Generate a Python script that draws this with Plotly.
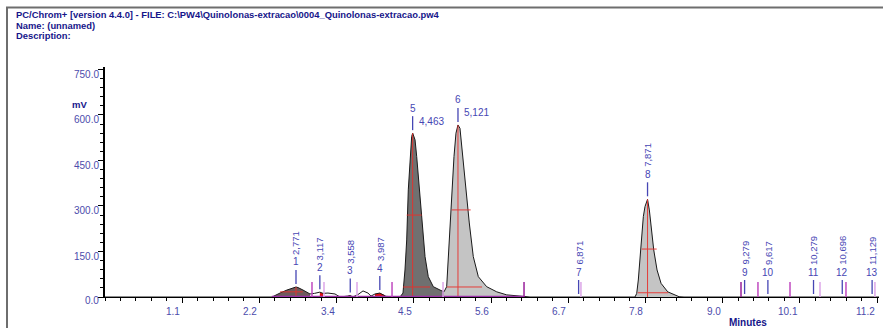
import plotly.graph_objects as go
import numpy as np

# ---------------- data ----------------
time_min = [0.000, 2.423, 2.539, 2.640, 2.771, 2.800, 2.872, 2.974, 3.040, 3.117,
            3.163, 3.235, 3.337, 3.409, 3.520, 3.558, 3.595, 3.670, 3.743, 3.815,
            3.859, 3.917, 3.987, 4.030, 4.077, 4.280, 4.309, 4.323, 4.352, 4.377,
            4.400, 4.425, 4.449, 4.464, 4.498, 4.522, 4.560, 4.595, 4.643, 4.690,
            4.763, 4.860, 4.918, 4.957, 4.980, 5.005, 5.030, 5.063, 5.092, 5.121,
            5.150, 5.189, 5.237, 5.285, 5.343, 5.416, 5.537, 5.683, 5.828, 6.021,
            6.166, 7.689, 7.714, 7.737, 7.762, 7.787, 7.810, 7.834, 7.871, 7.897,
            7.922, 7.961, 8.009, 8.067, 8.164, 8.284, 8.328, 8.400, 11.229]
signal_mv = [0, 0, 13, 23, 33, 31, 23, 10, 12, 16,
             12, 13, 10, 0, 3, 5, 0, 8, 20, 13,
             3, 10, 13, 9, 2, 0, 7, 13, 89, 188,
             353, 463, 529, 540, 518, 463, 353, 244, 133, 67,
             34, 23, 17, 34, 133, 244, 353, 463, 540, 567,
             556, 463, 353, 244, 133, 67, 34, 17, 7, 2,
             0, 0, 12, 56, 122, 199, 265, 298, 322, 287,
             232, 155, 89, 45, 17, 7, 1, 0, 0]

# integration windows (start, end in minutes)
region_start = [2.42, 3.09, 3.52, 3.90, 4.28, 4.918, 7.689]
region_end = [2.975, 3.17, 3.595, 4.08, 4.918, 6.17, 8.40]

# peak labels
peak_num = [1, 2, 3, 4, 5, 6, 7, 8, 9, 10, 11, 12, 13]
peak_time = [2.771, 3.117, 3.558, 3.987, 4.463, 5.121, 6.871, 7.871,
             9.279, 9.617, 10.279, 10.696, 11.129]
peak_height = [33, 16, 5, 13, 540, 567, 0, 322, 0, 0, 0, 0, 0]
peak_time_text = ["2,771", "3,117", "3,558", "3,987", "4,463", "5,121", "6,871",
                  "7,871", "9,279", "9,617", "10,279", "10,696", "11,129"]

# red peak markers (apex vertical, half-height and base horizontal)
mark_time = [2.771, 4.463, 5.121, 7.871]
mark_apex = [33, 540, 567, 322]
half_level = [270, 287, 158]
half_left = [4.377, 5.030, 7.787]
half_right = [4.595, 5.305, 8.004]
base_level = [17, 33, 33, 14]
base_left = [2.54, 4.323, 4.96, 7.73]
base_right = [2.87, 4.715, 5.47, 8.17]

# integration baseline and event marks
intbase_start, intbase_end = 2.42, 6.079
event_time = [3.003, 3.177, 3.656, 4.164, 4.904, 6.079, 6.905,
              9.227, 9.473, 9.938, 10.373, 10.750, 11.170]
event_kind = ["m", "l", "l", "m", "l", "d", "l", "d", "m", "m", "l", "m", "l"]

# axes
x_tick_vals = [1.12, 2.24, 3.36, 4.48, 5.60, 6.72, 7.84, 8.96, 10.08, 11.20]
x_tick_text = ["1.1", "2.2", "3.4", "4.5", "5.6", "6.7", "7.8", "9.0", "10.1", "11.2"]
y_tick_vals = [0, 150, 300, 450, 600, 750]
y_tick_text = ["0.0", "150.0", "300.0", "450.0", "600.0", "750.0"]

header_lines = ["PC/Chrom+ [version 4.4.0] - FILE: C:\\PW4\\Quinolonas-extracao\\0004_Quinolonas-extracao.pw4",
                "Name: (unnamed)",
                "Description:"]

# ---------------- styles ----------------
W, H = 883, 328
ML, MR, MT, MB = 105, 4, 67, 31
PW, PH = W - ML - MR, H - MT - MB
FONT = "Liberation Sans, Arial, sans-serif"
NAVY = "#16168a"
TICKBLUE = "#4c4cac"
LABBLUE = "#4646b4"
REGION_COLORS = ["#6e5c5c", "#e01010", "#e01010", "#e01010", "#707070", "#c4c4c4", "#c4c4c4"]
EVENT_COLORS = {"m": "#c04ac0", "l": "#dca6e8", "d": "#98209a"}
RED = "#e8302c"

def px_x(p):
    return (p - ML) / PW

def px_y(p):
    return (H - MB - p) / PH

t = np.array(time_min)
s = np.array(signal_mv)

fig = go.Figure()

# filled integration regions
for a, b, c in zip(region_start, region_end, REGION_COLORS):
    m = (t >= a - 1e-9) & (t <= b + 1e-9)
    fig.add_trace(go.Scatter(x=t[m], y=s[m], mode="lines", fill="tozeroy",
                             fillcolor=c, line=dict(width=0), hoverinfo="skip",
                             showlegend=False))

# chromatogram
fig.add_trace(go.Scatter(x=t, y=s, mode="lines", line=dict(color="#1a1a1a", width=1),
                         showlegend=False))

# red markers
rx, ry = [], []
for tt, ap in zip(mark_time, mark_apex):
    rx += [tt, tt, None]
    ry += [0, ap, None]
for lv, a, b in zip(half_level, half_left, half_right):
    rx += [a, b, None]
    ry += [lv, lv, None]
for lv, a, b in zip(base_level, base_left, base_right):
    rx += [a, b, None]
    ry += [lv, lv, None]
fig.add_trace(go.Scatter(x=rx, y=ry, mode="lines", line=dict(color=RED, width=1),
                         opacity=0.9, showlegend=False, hoverinfo="skip"))

shapes = []
annotations = []

# integration baseline
shapes.append(dict(type="line", xref="x", yref="y", x0=intbase_start, x1=intbase_end,
                   y0=2, y1=2, line=dict(color="#9a30a6", width=1.5)))

# event marks
for et, k in zip(event_time, event_kind):
    shapes.append(dict(type="line", xref="x", yref="y", ysizemode="pixel", yanchor=0,
                       x0=et, x1=et, y0=0, y1=15,
                       line=dict(color=EVENT_COLORS[k], width=1.5)))

# peak labels
for n, pt, ph, txt in zip(peak_num, peak_time, peak_height, peak_time_text):
    shapes.append(dict(type="line", xref="x", yref="y", ysizemode="pixel", yanchor=ph,
                       x0=pt, x1=pt, y0=3, y1=17, line=dict(color=LABBLUE, width=1.3)))
    annotations.append(dict(x=pt, y=ph, xref="x", yref="y", text=str(n), showarrow=False,
                            yshift=25, yanchor="middle", xanchor="center",
                            font=dict(family=FONT, size=10, color=LABBLUE)))
    if n in (5, 6):
        annotations.append(dict(x=pt, y=ph, xref="x", yref="y", text=txt, showarrow=False,
                                xshift=4, yshift=12, yanchor="middle", xanchor="left",
                                font=dict(family=FONT, size=10, color=LABBLUE)))
    else:
        annotations.append(dict(x=pt, y=ph, xref="x", yref="y", text=txt, showarrow=False,
                                yshift=30, yanchor="bottom", xanchor="center", textangle=-90,
                                font=dict(family=FONT, size=9.5, color=LABBLUE)))

# tick labels
for v, txt in zip(x_tick_vals, x_tick_text):
    annotations.append(dict(x=v, y=0, xref="x", yref="paper", text=txt, showarrow=False,
                            xanchor="right", yanchor="middle", xshift=0, yshift=-14,
                            font=dict(family=FONT, size=10, color=TICKBLUE)))
for v, txt in zip(y_tick_vals, y_tick_text):
    annotations.append(dict(x=0, y=v, xref="paper", yref="y", text=txt, showarrow=False,
                            xanchor="right", yanchor="middle", xshift=-4,
                            yshift=(-3 if v == 0 else -5),
                            font=dict(family=FONT, size=10, color=TICKBLUE)))

# header
for i, line in enumerate(header_lines):
    annotations.append(dict(x=px_x(15), y=px_y(15 + 10.5 * i), xref="paper", yref="paper",
                            text="<b>" + line + "</b>", showarrow=False, xanchor="left",
                            yanchor="middle", borderpad=0,
                            font=dict(family=FONT, size=9.4, color=NAVY)))
annotations.append(dict(x=px_x(79), y=px_y(104), xref="paper", yref="paper", text="<b>mV</b>",
                        showarrow=False, xanchor="center", yanchor="middle",
                        font=dict(family=FONT, size=9.5, color=NAVY)))
annotations.append(dict(x=px_x(748), y=px_y(322), xref="paper", yref="paper",
                        text="<b>Minutes</b>", showarrow=False, xanchor="center",
                        yanchor="middle", font=dict(family=FONT, size=10, color=NAVY)))

# outer frame
shapes.append(dict(type="rect", xref="paper", yref="paper", x0=px_x(7), x1=px_x(895),
                   y0=px_y(340), y1=px_y(7.5), line=dict(color="#6e6e6e", width=2)))

fig.update_layout(
    width=W, height=H, margin=dict(l=ML, r=MR, t=MT, b=MB),
    paper_bgcolor="white", plot_bgcolor="white",
    shapes=shapes, annotations=annotations, showlegend=False,
    xaxis=dict(range=[0, 11.229], showline=True, linecolor="black", linewidth=1,
               ticks="outside", tickvals=x_tick_vals, ticklen=5, tickcolor="black",
               showticklabels=False, showgrid=False, zeroline=False,
               minor=dict(tickmode="linear", tick0=0, dtick=0.224, ticks="outside",
                          ticklen=3, tickcolor="black", showgrid=False)),
    yaxis=dict(range=[0, 758], showline=True, linecolor="black", linewidth=1.5,
               ticks="outside", tickvals=y_tick_vals, ticklen=5, tickcolor="black",
               showticklabels=False, showgrid=False, zeroline=False,
               minor=dict(tickmode="linear", tick0=0, dtick=30, ticks="outside",
                          ticklen=3, tickcolor="black", showgrid=False)),
)

fig.write_html("out.html")
